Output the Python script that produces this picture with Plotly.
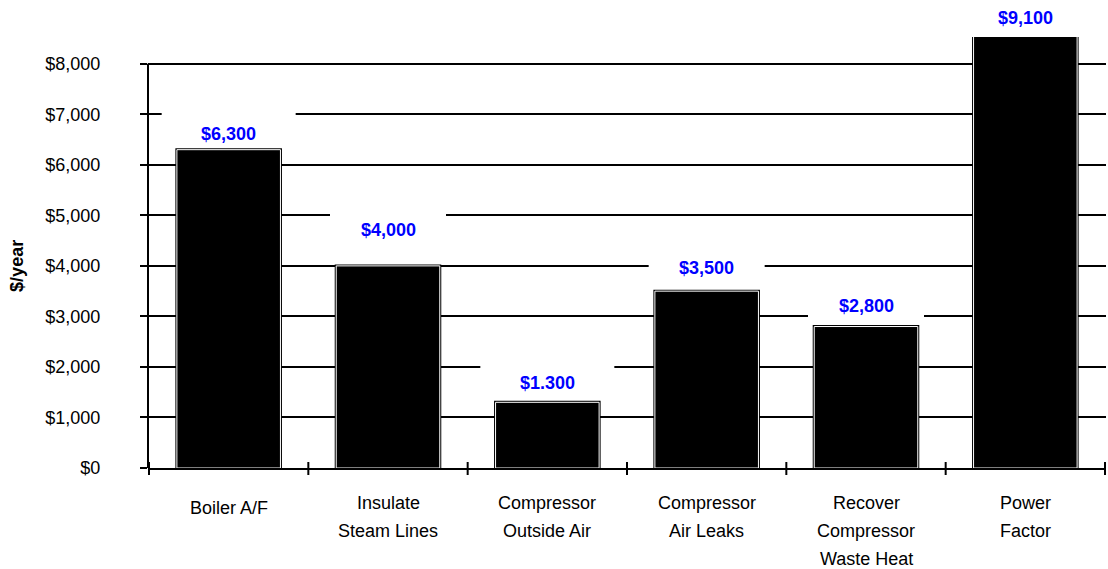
import plotly.graph_objects as go

# Annual savings per measure
categories = ["Boiler A/F", "Insulate<br>Steam Lines", "Compressor<br>Outside Air",
              "Compressor<br>Air Leaks", "Recover<br>Compressor<br>Waste Heat", "Power<br>Factor"]
savings = [6300, 4000, 1300, 3500, 2800, 9100]
value_labels = ["$6,300", "$4,000", "$1.300", "$3,500", "$2,800", "$9,100"]
y_ticks = [0, 1000, 2000, 3000, 4000, 5000, 6000, 7000, 8000]

# styling
Y_TOP = 8530
FONT = "Arial, Liberation Sans, sans-serif"
label_lift = [16, 36, 19, 23, 21, 19]          # px from bar top to label centre
label_box_w = [134, 116, 134, 116, 116, 116]   # white label background widths
LABEL_BOX_H = 44
LINE_GAP = 27.8

fig = go.Figure()
# outer black edge
fig.add_trace(go.Bar(x=categories, y=savings, width=0.65,
                     marker=dict(color="black", line=dict(color="black", width=3)),
                     hoverinfo="skip"))
# thin white inner rule
fig.add_trace(go.Bar(x=categories, y=savings, width=0.65,
                     marker=dict(color="black", line=dict(color="white", width=1)),
                     hoverinfo="skip"))

shapes = []
annotations = []
for i, (cat, v, txt) in enumerate(zip(categories, savings, value_labels)):
    anchor = min(v, Y_TOP)
    # white box behind the value label (above gridlines, below bars)
    shapes.append(dict(type="rect", layer="between",
                       xref="x", xsizemode="pixel", xanchor=i,
                       x0=-label_box_w[i] / 2, x1=label_box_w[i] / 2,
                       yref="y", ysizemode="pixel", yanchor=anchor,
                       y0=label_lift[i] - LABEL_BOX_H / 2, y1=label_lift[i] + LABEL_BOX_H / 2,
                       fillcolor="white", line=dict(width=0)))
    annotations.append(dict(x=cat, y=anchor, xref="x", yref="y", text=f"<b>{txt}</b>",
                            showarrow=False, yanchor="middle", yshift=label_lift[i],
                            font=dict(family=FONT, size=18, color="#0000ff")))
    # category label, one annotation per line
    lines = cat.split("<br>")
    base = 40 if len(lines) == 1 else 35
    for k, line in enumerate(lines):
        annotations.append(dict(x=cat, y=0, xref="x", yref="paper", text=line,
                                showarrow=False, yanchor="middle",
                                yshift=-(base + k * LINE_GAP),
                                font=dict(family=FONT, size=18, color="black")))

# category boundary ticks crossing the x axis
for b in range(len(categories) + 1):
    shapes.append(dict(type="line", xref="x", x0=b - 0.5, x1=b - 0.5,
                       yref="paper", ysizemode="pixel", yanchor=0, y0=-7, y1=6,
                       line=dict(color="black", width=2)))

# value axis line up to the top tick
shapes.append(dict(type="line", xref="paper", x0=0, x1=0, yref="y",
                   y0=y_ticks[0], y1=y_ticks[-1], line=dict(color="black", width=2)))

annotations.append(dict(x=0, y=4000, xref="paper", yref="y", text="<b>$/year</b>",
                        textangle=-90, showarrow=False, xanchor="center", xshift=-131,
                        font=dict(family=FONT, size=18, color="black")))

fig.update_layout(
    width=1108, height=569,
    margin=dict(l=148, r=2, t=37, b=101),
    barmode="overlay", bargap=0.35,
    showlegend=False,
    plot_bgcolor="white", paper_bgcolor="white",
    shapes=shapes, annotations=annotations,
    font=dict(family=FONT, size=18, color="black"),
)
fig.update_xaxes(showticklabels=False, ticks="", showline=True, linecolor="black",
                 linewidth=2, showgrid=False, zeroline=False, fixedrange=True)
fig.update_yaxes(range=[0, Y_TOP], tickvals=y_ticks, tickformat="$,.0f",
                 ticks="outside", ticklen=7, tickwidth=2, tickcolor="black",
                 ticklabelstandoff=36,
                 showgrid=True, gridcolor="black", gridwidth=2,
                 showline=False, zeroline=False,
                 tickfont=dict(family=FONT, size=18, color="black"))

fig.write_html("out.html")
